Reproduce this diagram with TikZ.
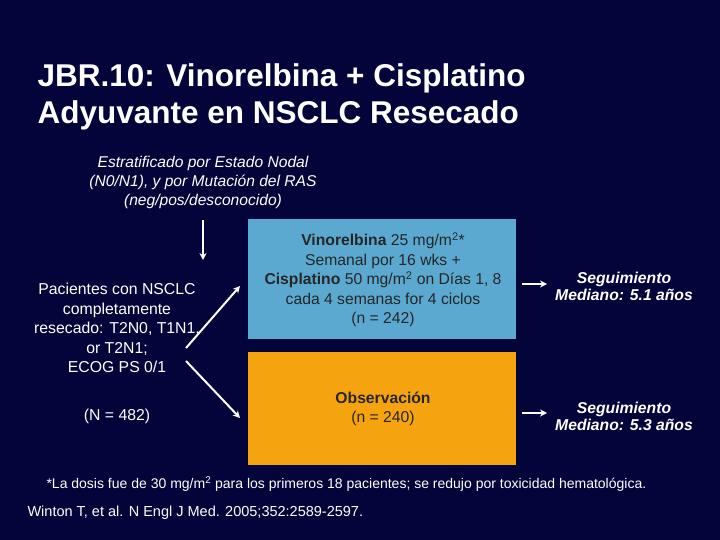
\documentclass[tikz,border=0pt]{standalone}
\usepackage{fontspec}
\usetikzlibrary{arrows.meta}
\setmainfont{Liberation Sans}
\definecolor{bg}{HTML}{03043A}
\definecolor{bluebox}{HTML}{5BA9D0}
\definecolor{orangebox}{HTML}{F5A30F}
\begin{document}
\begin{tikzpicture}[x=1pt,y=-1pt,
  txt/.style={text=white,font=\fontsize{15.8}{19}\selectfont,align=center},
  boxtxt/.style={text=black!85,font=\fontsize{15.7}{19}\selectfont,align=center},
  arr/.style={draw=white,line width=2pt,-{Stealth[length=7pt,width=7pt]}}]
\fill[bg] (0,0) rectangle (720,540);
\useasboundingbox (0,0) rectangle (720,540);
\node[anchor=west,text=white,font=\bfseries\fontsize{31.5}{37}\selectfont,align=left] (title) at (34,97) {JBR.10: Vinorelbina + Cisplatino\\Adyuvante en NSCLC Resecado};
\node[txt,font=\itshape\fontsize{15.6}{19}\selectfont] (strat) at (203,182) {Estratificado por Estado Nodal\\(N0/N1), y por Mutación del RAS\\(neg/pos/desconocido)};
\coordinate (vs) at (203,220);
\coordinate (ve) at (203,260);
\draw[arr] (vs) -- (ve);
\node[txt,font=\fontsize{15.8}{19.5}\selectfont] (pat) at (117,328) {Pacientes con NSCLC\\completamente\\resecado: T2N0, T1N1,\\or T2N1;\\ECOG PS 0/1};
\node[txt] (n) at (117,416) {(N = 482)};
\node[fill=bluebox,minimum width=268pt,minimum height=120pt,anchor=north west,inner sep=0] (blue) at (248,219) {};
\node[fill=orangebox,minimum width=268pt,minimum height=113pt,anchor=north west,inner sep=0] (orange) at (248,352) {};
\node[boxtxt,font=\fontsize{15.7}{19.5}\selectfont] (bt) at (383,280) {\textbf{Vinorelbina} 25 mg/m\textsuperscript{2}*\\Semanal por 16 wks +\\\textbf{Cisplatino} 50 mg/m\textsuperscript{2} on Días 1, 8\\cada 4 semanas for 4 ciclos\\(n = 242)};
\node[boxtxt,font=\fontsize{15.7}{19.5}\selectfont] (ot) at (383,409) {\textbf{Observación}\\(n = 240)};
\coordinate (a1) at (186,348);
\coordinate (a2) at (186,361);
\coordinate (b1) at (240,286);
\coordinate (b2) at (240,418);
\draw[arr] (a1) -- (b1);
\draw[arr] (a2) -- (b2);
\coordinate (r1s) at (522,284);
\coordinate (r1e) at (547,284);
\coordinate (r2s) at (522,413);
\coordinate (r2e) at (547,413);
\draw[arr] (r1s) -- (r1e);
\draw[arr] (r2s) -- (r2e);
\node[txt,font=\bfseries\itshape\fontsize{15.7}{17}\selectfont] (f1) at (624,286) {Seguimiento\\Mediano: 5.1 años};
\node[txt,font=\bfseries\itshape\fontsize{15.7}{17}\selectfont] (f2) at (624,416) {Seguimiento\\Mediano: 5.3 años};
\node[anchor=west,text=white,font=\fontsize{14}{15}\selectfont] (foot) at (43,484) {*La dosis fue de 30 mg/m\textsuperscript{2} para los primeros 18 pacientes; se redujo por toxicidad hematológica.};
\node[anchor=west,text=white,font=\fontsize{14.5}{14}\selectfont] (ref) at (24,513) {Winton T, et al. N Engl J Med. 2005;352:2589-2597.};
\end{tikzpicture}
\end{document}
